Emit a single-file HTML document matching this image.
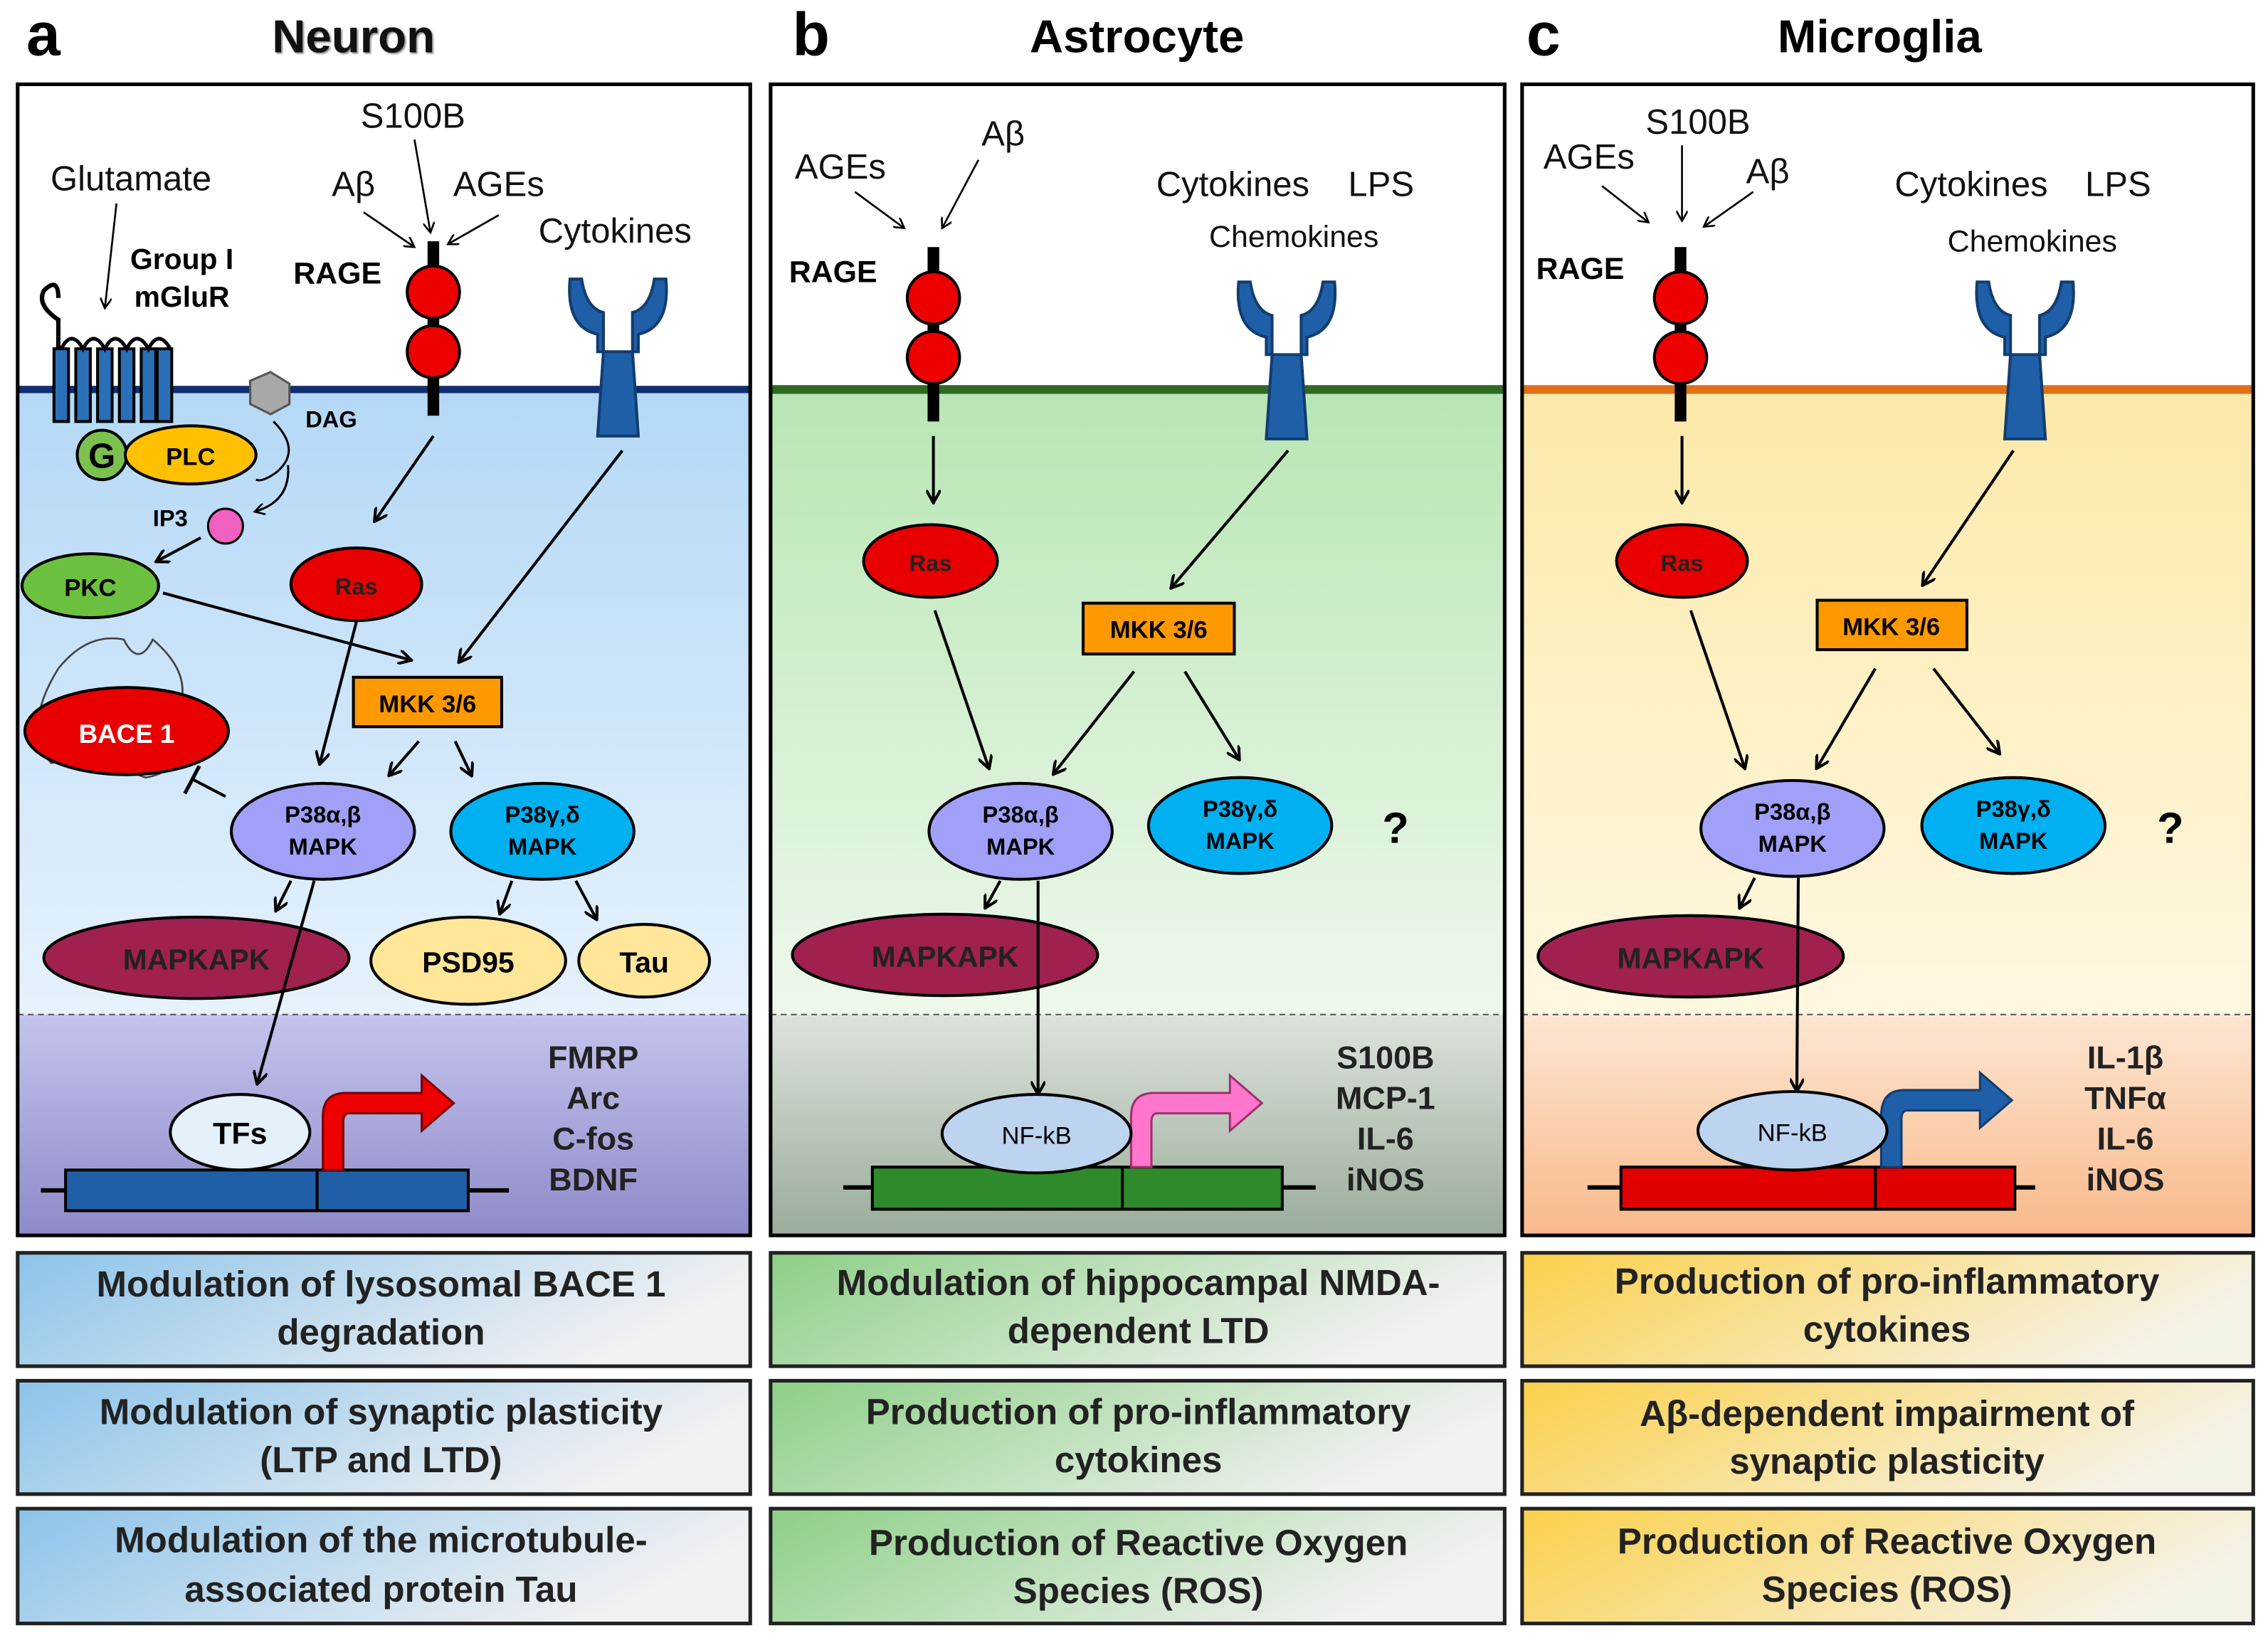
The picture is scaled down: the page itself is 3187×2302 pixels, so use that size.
<!DOCTYPE html>
<html><head><meta charset="utf-8"><style>
html,body{margin:0;padding:0;background:#fff}
svg{display:block}
text{font-family:"Liberation Sans",sans-serif}
.b{font-weight:bold}
</style></head><body>
<svg width="3187" height="2302" viewBox="0 0 1560 1127" xmlns="http://www.w3.org/2000/svg">
<defs>
<linearGradient id="ga" x1="0" y1="0" x2="0" y2="1"><stop offset="0" stop-color="#b4d8f6"/><stop offset="1" stop-color="#e6f2fc"/></linearGradient>
<linearGradient id="ga2" x1="0" y1="0" x2="0" y2="1"><stop offset="0" stop-color="#c4c4ee"/><stop offset="1" stop-color="#8e8ac8"/></linearGradient>
<linearGradient id="gb" x1="0" y1="0" x2="0" y2="1"><stop offset="0" stop-color="#b8e6b4"/><stop offset="1" stop-color="#eef8ec"/></linearGradient>
<linearGradient id="gb2" x1="0" y1="0" x2="0" y2="1"><stop offset="0" stop-color="#dde3dc"/><stop offset="1" stop-color="#9aac9a"/></linearGradient>
<linearGradient id="gc" x1="0" y1="0" x2="0" y2="1"><stop offset="0" stop-color="#fce9a8"/><stop offset="1" stop-color="#fff8e2"/></linearGradient>
<linearGradient id="gc2" x1="0" y1="0" x2="0" y2="1"><stop offset="0" stop-color="#fde6d2"/><stop offset="1" stop-color="#f8b98a"/></linearGradient>
<linearGradient id="ba" x1="0" y1="0" x2="1" y2="0.3"><stop offset="0" stop-color="#8cc3ea"/><stop offset="1" stop-color="#f2f2f2"/></linearGradient>
<linearGradient id="bb" x1="0" y1="0" x2="1" y2="0.3"><stop offset="0" stop-color="#8ccf86"/><stop offset="1" stop-color="#f2f2f2"/></linearGradient>
<linearGradient id="bc" x1="0" y1="0" x2="1" y2="0.3"><stop offset="0" stop-color="#fbd04a"/><stop offset="1" stop-color="#f5f2e6"/></linearGradient>
<marker id="ar" markerWidth="10" markerHeight="10" refX="8" refY="5" orient="auto" markerUnits="userSpaceOnUse"><path d="M0,0 L9,5 L0,10" fill="none" stroke="#000" stroke-width="2"/></marker>
<marker id="as" markerWidth="8" markerHeight="8" refX="7" refY="4" orient="auto" markerUnits="userSpaceOnUse"><path d="M0,0 L7,4 L0,8" fill="none" stroke="#000" stroke-width="1.3"/></marker>
<g id="rec"><path d="M-33,-78 L-25,-78 Q-22,-58 -10,-55 L-10,-28 L-14,30 L14,30 L10,-28 L10,-55 Q22,-58 25,-78 L33,-78 Q36,-45 14,-40 L14,-28 L-14,-28 L-14,-40 Q-36,-45 -33,-78 Z" fill="#1f5fa8" stroke="#123d70" stroke-width="2"/></g>
<g id="rage"><rect x="-4" y="-102" width="8" height="120" fill="#000"/><circle cx="0" cy="-67" r="18" fill="#e00" stroke="#000" stroke-width="2"/><circle cx="0" cy="-26" r="18" fill="#e00" stroke="#000" stroke-width="2"/></g>
</defs>

<!-- Panel a -->
<rect x="12" y="268" width="504" height="430" fill="url(#ga)"/>
<rect x="12" y="698" width="504" height="152" fill="url(#ga2)"/>
<line x1="12" y1="268" x2="516" y2="268" stroke="#102e70" stroke-width="5"/>
<line x1="12" y1="698" x2="516" y2="698" stroke="#555" stroke-width="1" stroke-dasharray="4,3"/>
<rect x="12" y="58" width="504" height="792" fill="none" stroke="#000" stroke-width="2.5"/>
<!-- Panel b -->
<rect x="530" y="268" width="505" height="430" fill="url(#gb)"/>
<rect x="530" y="698" width="505" height="152" fill="url(#gb2)"/>
<line x1="530" y1="268" x2="1035" y2="268" stroke="#2e6a22" stroke-width="6"/>
<line x1="530" y1="698" x2="1035" y2="698" stroke="#555" stroke-width="1" stroke-dasharray="4,3"/>
<rect x="530" y="58" width="505" height="792" fill="none" stroke="#000" stroke-width="2.5"/>
<!-- Panel c -->
<rect x="1047" y="268" width="503" height="430" fill="url(#gc)"/>
<rect x="1047" y="698" width="503" height="152" fill="url(#gc2)"/>
<line x1="1047" y1="268" x2="1550" y2="268" stroke="#e07018" stroke-width="6"/>
<line x1="1047" y1="698" x2="1550" y2="698" stroke="#555" stroke-width="1" stroke-dasharray="4,3"/>
<rect x="1047" y="58" width="503" height="792" fill="none" stroke="#000" stroke-width="2.5"/>

<!-- Titles -->
<g class="b" style="font-weight:bold">
<text x="18" y="38" font-size="42">a</text>
<text x="243" y="36" font-size="32" text-anchor="middle" fill="#111" style="text-shadow:2px 2px 2px #888">Neuron</text>
<text x="545" y="38" font-size="42">b</text>
<text x="782" y="36" font-size="32" text-anchor="middle">Astrocyte</text>
<text x="1050" y="38" font-size="42">c</text>
<text x="1293" y="36" font-size="32" text-anchor="middle">Microglia</text>
</g>

<!-- ===== Panel a content ===== -->
<g font-size="24" fill="#111">
<text x="284" y="88" text-anchor="middle">S100B</text>
<text x="243" y="135" text-anchor="middle">Aβ</text>
<text x="343" y="135" text-anchor="middle">AGEs</text>
<text x="90" y="131" text-anchor="middle">Glutamate</text>
<text x="423" y="167" text-anchor="middle">Cytokines</text>
</g>
<text x="232" y="195" font-size="21" font-weight="bold" text-anchor="middle">RAGE</text>
<text x="125" y="185" font-size="20" font-weight="bold" text-anchor="middle">Group I</text>
<text x="125" y="211" font-size="20" font-weight="bold" text-anchor="middle">mGluR</text>
<line x1="285" y1="96" x2="296" y2="160" stroke="#000" stroke-width="1.3" marker-end="url(#as)"/>
<line x1="250" y1="146" x2="285" y2="170" stroke="#000" stroke-width="1.3" marker-end="url(#as)"/>
<line x1="343" y1="148" x2="308" y2="168" stroke="#000" stroke-width="1.3" marker-end="url(#as)"/>
<line x1="80" y1="140" x2="72" y2="212" stroke="#000" stroke-width="1.3" marker-end="url(#as)"/>
<use href="#rage" x="298" y="268"/>
<use href="#rec" x="425" y="270"/>
<!-- GPCR -->
<path d="M40,240 L40,220 Q25,210 30,200 Q40,190 40,205" fill="none" stroke="#000" stroke-width="3"/>
<g fill="#2a6fb8" stroke="#000" stroke-width="2">
<rect x="37" y="240" width="10" height="50"/><rect x="52" y="240" width="10" height="50"/><rect x="67" y="240" width="10" height="50"/><rect x="82" y="240" width="10" height="50"/><rect x="97" y="240" width="10" height="50"/><rect x="108" y="240" width="10" height="50"/>
</g>
<path d="M42,240 q7,-14 15,0 q7,-14 15,0 q7,-14 15,0 q7,-14 15,0 q7,-14 15,0" fill="none" stroke="#000" stroke-width="2.5"/>
<circle cx="70" cy="313" r="17" fill="#7cc050" stroke="#000" stroke-width="2"/>
<text x="70" y="322" font-size="24" font-weight="bold" text-anchor="middle">G</text>
<ellipse cx="131" cy="313" rx="45" ry="20" fill="#ffc000" stroke="#000" stroke-width="2"/>
<text x="131" y="320" font-size="17" font-weight="bold" text-anchor="middle">PLC</text>
<polygon points="172,262 186,256 199,264 199,278 186,285 172,278" fill="#a8a8a8" stroke="#555" stroke-width="1.5"/>
<text x="210" y="294" font-size="16" font-weight="bold">DAG</text>
<path d="M188,290 Q208,310 190,325 Q180,332 176,330" fill="none" stroke="#000" stroke-width="1.5"/>
<path d="M198,320 Q200,345 175,352" fill="none" stroke="#000" stroke-width="1.5" marker-end="url(#as)"/>
<text x="105" y="362" font-size="16" font-weight="bold">IP3</text>
<circle cx="155" cy="362" r="12" fill="#f060c0" stroke="#000" stroke-width="1.5"/>
<line x1="138" y1="370" x2="108" y2="386" stroke="#000" stroke-width="2" marker-end="url(#ar)"/>
<ellipse cx="62" cy="403" rx="47" ry="22" fill="#6cc040" stroke="#000" stroke-width="2"/>
<text x="62" y="410" font-size="17" font-weight="bold" text-anchor="middle">PKC</text>
<ellipse cx="245" cy="402" rx="45" ry="25" fill="#e80000" stroke="#000" stroke-width="2"/>
<text x="245" y="409" font-size="16" font-weight="bold" text-anchor="middle" fill="#222">Ras</text>
<line x1="298" y1="300" x2="258" y2="358" stroke="#000" stroke-width="2" marker-end="url(#ar)"/>
<line x1="428" y1="310" x2="316" y2="455" stroke="#000" stroke-width="2" marker-end="url(#ar)"/>
<line x1="112" y1="408" x2="282" y2="454" stroke="#000" stroke-width="2" marker-end="url(#ar)"/>
<rect x="243" y="466" width="102" height="34" fill="#ff9900" stroke="#000" stroke-width="2"/>
<text x="294" y="490" font-size="17" font-weight="bold" text-anchor="middle">MKK 3/6</text>
<path d="M40,460 Q60,435 85,440 Q95,460 105,440 Q140,470 115,500 Q130,530 100,535 Q60,520 35,525 Q15,500 40,460 Z" fill="none" stroke="#444" stroke-width="1.3"/>
<ellipse cx="87" cy="503" rx="70" ry="30" fill="#e80000" stroke="#000" stroke-width="2"/>
<text x="87" y="511" font-size="18" font-weight="bold" text-anchor="middle" fill="#fff">BACE 1</text>
<line x1="155" y1="548" x2="132" y2="536" stroke="#000" stroke-width="2"/>
<line x1="127" y1="546" x2="137" y2="527" stroke="#000" stroke-width="2.5"/>
<line x1="245" y1="428" x2="220" y2="525" stroke="#000" stroke-width="2" marker-end="url(#ar)"/>
<line x1="288" y1="510" x2="268" y2="533" stroke="#000" stroke-width="2" marker-end="url(#ar)"/>
<line x1="313" y1="510" x2="324" y2="533" stroke="#000" stroke-width="2" marker-end="url(#ar)"/>
<ellipse cx="222" cy="572" rx="63" ry="33" fill="#a0a0f8" stroke="#000" stroke-width="2"/>
<text x="222" y="566" font-size="16" font-weight="bold" text-anchor="middle">P38α,β</text>
<text x="222" y="588" font-size="16" font-weight="bold" text-anchor="middle">MAPK</text>
<ellipse cx="373" cy="572" rx="63" ry="33" fill="#00b0f0" stroke="#000" stroke-width="2"/>
<text x="373" y="566" font-size="16" font-weight="bold" text-anchor="middle">P38γ,δ</text>
<text x="373" y="588" font-size="16" font-weight="bold" text-anchor="middle">MAPK</text>
<line x1="200" y1="606" x2="190" y2="626" stroke="#000" stroke-width="2" marker-end="url(#ar)"/>
<line x1="352" y1="606" x2="344" y2="628" stroke="#000" stroke-width="2" marker-end="url(#ar)"/>
<line x1="396" y1="606" x2="410" y2="632" stroke="#000" stroke-width="2" marker-end="url(#ar)"/>
<ellipse cx="135" cy="659" rx="105" ry="28" fill="#a02050" stroke="#000" stroke-width="2"/>
<text x="135" y="667" font-size="20" font-weight="bold" text-anchor="middle" fill="#222">MAPKAPK</text>
<ellipse cx="322" cy="661" rx="67" ry="30" fill="#ffe699" stroke="#000" stroke-width="2"/>
<text x="322" y="669" font-size="20" font-weight="bold" text-anchor="middle">PSD95</text>
<ellipse cx="443" cy="661" rx="45" ry="25" fill="#ffe699" stroke="#000" stroke-width="2"/>
<text x="443" y="669" font-size="20" font-weight="bold" text-anchor="middle">Tau</text>
<line x1="216" y1="606" x2="177" y2="745" stroke="#000" stroke-width="2" marker-end="url(#ar)"/>
<line x1="28" y1="819" x2="350" y2="819" stroke="#000" stroke-width="3"/>
<rect x="45" y="805" width="277" height="28" fill="#1f5fa8" stroke="#000" stroke-width="2"/>
<line x1="218" y1="805" x2="218" y2="833" stroke="#000" stroke-width="2"/>
<ellipse cx="165" cy="779" rx="48" ry="26" fill="#e4f0fa" stroke="#000" stroke-width="2"/>
<text x="165" y="787" font-size="21" font-weight="bold" text-anchor="middle">TFs</text>
<path d="M222,805 L222,768 Q222,752 238,752 L290,752 L290,740 L312,759 L290,778 L290,766 L240,766 Q236,766 236,772 L236,805 Z" fill="#e00" stroke="#700" stroke-width="1.5"/>
<g font-size="22" font-weight="bold" text-anchor="middle" fill="#222">
<text x="408" y="735">FMRP</text><text x="408" y="763">Arc</text><text x="408" y="791">C-fos</text><text x="408" y="819">BDNF</text>
</g>

<!-- ===== Panel b content ===== -->
<g font-size="24" fill="#111">
<text x="578" y="123" text-anchor="middle">AGEs</text>
<text x="690" y="100" text-anchor="middle">Aβ</text>
<text x="848" y="135" text-anchor="middle">Cytokines</text>
<text x="950" y="135" text-anchor="middle">LPS</text>
<text x="890" y="170" text-anchor="middle" font-size="21">Chemokines</text>
</g>
<text x="573" y="194" font-size="21" font-weight="bold" text-anchor="middle">RAGE</text>
<line x1="588" y1="132" x2="622" y2="157" stroke="#000" stroke-width="1.3" marker-end="url(#as)"/>
<line x1="673" y1="110" x2="648" y2="157" stroke="#000" stroke-width="1.3" marker-end="url(#as)"/>
<use href="#rage" x="642" y="272"/>
<use href="#rec" x="885" y="272"/>
<line x1="642" y1="300" x2="642" y2="345" stroke="#000" stroke-width="2" marker-end="url(#ar)"/>
<ellipse cx="640" cy="386" rx="46" ry="25" fill="#e80000" stroke="#000" stroke-width="2"/>
<text x="640" y="393" font-size="16" font-weight="bold" text-anchor="middle" fill="#222">Ras</text>
<line x1="886" y1="310" x2="806" y2="404" stroke="#000" stroke-width="2" marker-end="url(#ar)"/>
<rect x="745" y="415" width="104" height="35" fill="#ff9900" stroke="#000" stroke-width="2"/>
<text x="797" y="439" font-size="17" font-weight="bold" text-anchor="middle">MKK 3/6</text>
<line x1="643" y1="420" x2="680" y2="528" stroke="#000" stroke-width="2" marker-end="url(#ar)"/>
<line x1="780" y1="462" x2="725" y2="532" stroke="#000" stroke-width="2" marker-end="url(#ar)"/>
<line x1="815" y1="462" x2="852" y2="522" stroke="#000" stroke-width="2" marker-end="url(#ar)"/>
<ellipse cx="702" cy="572" rx="63" ry="33" fill="#a0a0f8" stroke="#000" stroke-width="2"/>
<text x="702" y="566" font-size="16" font-weight="bold" text-anchor="middle">P38α,β</text>
<text x="702" y="588" font-size="16" font-weight="bold" text-anchor="middle">MAPK</text>
<ellipse cx="853" cy="568" rx="63" ry="33" fill="#00b0f0" stroke="#000" stroke-width="2"/>
<text x="853" y="562" font-size="16" font-weight="bold" text-anchor="middle">P38γ,δ</text>
<text x="853" y="584" font-size="16" font-weight="bold" text-anchor="middle">MAPK</text>
<text x="960" y="580" font-size="30" font-weight="bold" text-anchor="middle">?</text>
<line x1="688" y1="606" x2="678" y2="624" stroke="#000" stroke-width="2" marker-end="url(#ar)"/>
<ellipse cx="650" cy="657" rx="105" ry="28" fill="#a02050" stroke="#000" stroke-width="2"/>
<text x="650" y="665" font-size="20" font-weight="bold" text-anchor="middle" fill="#222">MAPKAPK</text>
<line x1="714" y1="606" x2="714" y2="752" stroke="#000" stroke-width="2" marker-end="url(#ar)"/>
<line x1="580" y1="817" x2="905" y2="817" stroke="#000" stroke-width="3"/>
<rect x="600" y="803" width="282" height="29" fill="#2e8a2a" stroke="#000" stroke-width="2"/>
<line x1="772" y1="803" x2="772" y2="832" stroke="#000" stroke-width="2"/>
<path d="M778,803 L778,768 Q778,752 794,752 L846,752 L846,740 L868,759 L846,778 L846,766 L796,766 Q792,766 792,772 L792,803 Z" fill="#ff77cc" stroke="#a03070" stroke-width="1.5"/>
<ellipse cx="713" cy="780" rx="65" ry="27" fill="#bcd4f0" stroke="#000" stroke-width="2"/>
<text x="713" y="787" font-size="17" text-anchor="middle">NF-kB</text>
<g font-size="22" font-weight="bold" text-anchor="middle" fill="#222">
<text x="953" y="735">S100B</text><text x="953" y="763">MCP-1</text><text x="953" y="791">IL-6</text><text x="953" y="819">iNOS</text>
</g>

<!-- ===== Panel c content ===== -->
<g font-size="24" fill="#111">
<text x="1093" y="116" text-anchor="middle">AGEs</text>
<text x="1168" y="92" text-anchor="middle">S100B</text>
<text x="1216" y="126" text-anchor="middle">Aβ</text>
<text x="1356" y="135" text-anchor="middle">Cytokines</text>
<text x="1457" y="135" text-anchor="middle">LPS</text>
<text x="1398" y="173" text-anchor="middle" font-size="21">Chemokines</text>
</g>
<text x="1087" y="192" font-size="21" font-weight="bold" text-anchor="middle">RAGE</text>
<line x1="1102" y1="128" x2="1134" y2="153" stroke="#000" stroke-width="1.3" marker-end="url(#as)"/>
<line x1="1157" y1="100" x2="1157" y2="152" stroke="#000" stroke-width="1.3" marker-end="url(#as)"/>
<line x1="1206" y1="132" x2="1172" y2="156" stroke="#000" stroke-width="1.3" marker-end="url(#as)"/>
<use href="#rage" x="1156" y="272"/>
<use href="#rec" x="1393" y="272"/>
<line x1="1157" y1="300" x2="1157" y2="345" stroke="#000" stroke-width="2" marker-end="url(#ar)"/>
<ellipse cx="1157" cy="386" rx="45" ry="25" fill="#e80000" stroke="#000" stroke-width="2"/>
<text x="1157" y="393" font-size="16" font-weight="bold" text-anchor="middle" fill="#222">Ras</text>
<line x1="1385" y1="310" x2="1323" y2="402" stroke="#000" stroke-width="2" marker-end="url(#ar)"/>
<rect x="1250" y="413" width="103" height="34" fill="#ff9900" stroke="#000" stroke-width="2"/>
<text x="1301" y="437" font-size="17" font-weight="bold" text-anchor="middle">MKK 3/6</text>
<line x1="1163" y1="420" x2="1200" y2="528" stroke="#000" stroke-width="2" marker-end="url(#ar)"/>
<line x1="1290" y1="460" x2="1250" y2="528" stroke="#000" stroke-width="2" marker-end="url(#ar)"/>
<line x1="1330" y1="460" x2="1375" y2="518" stroke="#000" stroke-width="2" marker-end="url(#ar)"/>
<ellipse cx="1233" cy="570" rx="63" ry="33" fill="#a0a0f8" stroke="#000" stroke-width="2"/>
<text x="1233" y="564" font-size="16" font-weight="bold" text-anchor="middle">P38α,β</text>
<text x="1233" y="586" font-size="16" font-weight="bold" text-anchor="middle">MAPK</text>
<ellipse cx="1385" cy="568" rx="63" ry="33" fill="#00b0f0" stroke="#000" stroke-width="2"/>
<text x="1385" y="562" font-size="16" font-weight="bold" text-anchor="middle">P38γ,δ</text>
<text x="1385" y="584" font-size="16" font-weight="bold" text-anchor="middle">MAPK</text>
<text x="1493" y="580" font-size="30" font-weight="bold" text-anchor="middle">?</text>
<line x1="1207" y1="604" x2="1197" y2="624" stroke="#000" stroke-width="2" marker-end="url(#ar)"/>
<ellipse cx="1163" cy="658" rx="105" ry="28" fill="#a02050" stroke="#000" stroke-width="2"/>
<text x="1163" y="666" font-size="20" font-weight="bold" text-anchor="middle" fill="#222">MAPKAPK</text>
<line x1="1237" y1="604" x2="1236" y2="750" stroke="#000" stroke-width="2" marker-end="url(#ar)"/>
<line x1="1092" y1="817" x2="1400" y2="817" stroke="#000" stroke-width="3"/>
<rect x="1115" y="803" width="271" height="29" fill="#e00000" stroke="#000" stroke-width="2"/>
<line x1="1290" y1="803" x2="1290" y2="832" stroke="#000" stroke-width="2"/>
<path d="M1294,803 L1294,768 Q1294,750 1310,750 L1362,750 L1362,738 L1384,757 L1362,776 L1362,764 L1312,764 Q1308,764 1308,770 L1308,803 Z" fill="#1f5fa8" stroke="#123d70" stroke-width="1.5"/>
<ellipse cx="1233" cy="778" rx="65" ry="27" fill="#bcd4f0" stroke="#000" stroke-width="2"/>
<text x="1233" y="785" font-size="17" text-anchor="middle">NF-kB</text>
<g font-size="22" font-weight="bold" text-anchor="middle" fill="#222">
<text x="1462" y="735">IL-1β</text><text x="1462" y="763">TNFα</text><text x="1462" y="791">IL-6</text><text x="1462" y="819">iNOS</text>
</g>

<!-- ===== Bottom boxes ===== -->
<g stroke="#222" stroke-width="2.5">
<rect x="12" y="862" width="504" height="78" fill="url(#ba)"/>
<rect x="12" y="950" width="504" height="78" fill="url(#ba)"/>
<rect x="12" y="1038" width="504" height="79" fill="url(#ba)"/>
<rect x="530" y="862" width="505" height="78" fill="url(#bb)"/>
<rect x="530" y="950" width="505" height="78" fill="url(#bb)"/>
<rect x="530" y="1038" width="505" height="79" fill="url(#bb)"/>
<rect x="1047" y="862" width="503" height="78" fill="url(#bc)"/>
<rect x="1047" y="950" width="503" height="78" fill="url(#bc)"/>
<rect x="1047" y="1038" width="503" height="79" fill="url(#bc)"/>
</g>
<g font-size="25" font-weight="bold" text-anchor="middle" fill="#222">
<text x="262" y="892">Modulation of lysosomal BACE 1</text><text x="262" y="925">degradation</text>
<text x="262" y="980">Modulation of synaptic plasticity</text><text x="262" y="1013">(LTP and LTD)</text>
<text x="262" y="1068">Modulation of the microtubule-</text><text x="262" y="1102">associated protein Tau</text>
<text x="783" y="891">Modulation of hippocampal NMDA-</text><text x="783" y="924">dependent LTD</text>
<text x="783" y="980">Production of pro-inflammatory</text><text x="783" y="1013">cytokines</text>
<text x="783" y="1070">Production of Reactive Oxygen</text><text x="783" y="1103">Species (ROS)</text>
<text x="1298" y="890">Production of pro-inflammatory</text><text x="1298" y="923">cytokines</text>
<text x="1298" y="981">Aβ-dependent impairment of</text><text x="1298" y="1014">synaptic plasticity</text>
<text x="1298" y="1069">Production of Reactive Oxygen</text><text x="1298" y="1102">Species (ROS)</text>
</g>
</svg>
</body></html>
